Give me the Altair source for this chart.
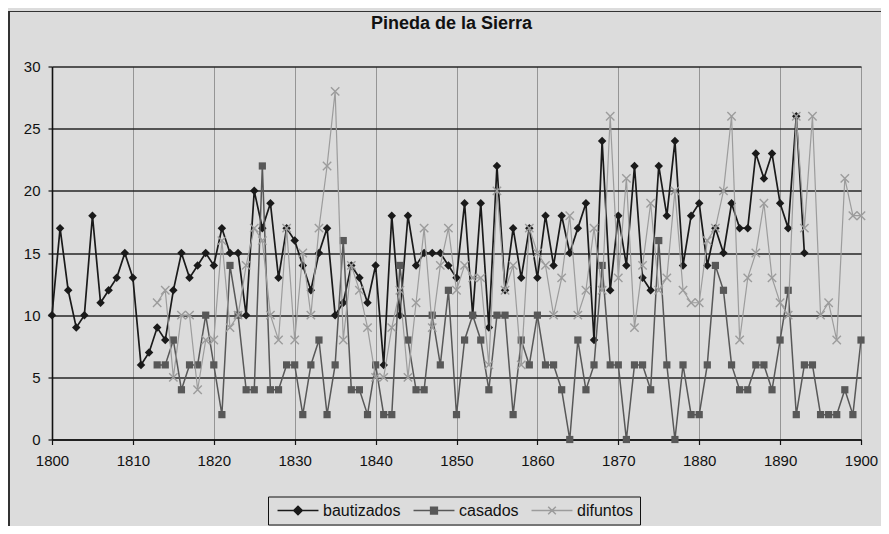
import altair as alt
import pandas as pd

# ---- data ----
anios_bautizados = list(range(1800, 1894))
bautizados = [
    10, 17, 12, 9, 10, 18, 11, 12, 13, 15,
    13, 6, 7, 9, 8, 12, 15, 13, 14, 15,
    14, 17, 15, 15, 10, 20, 17, 19, 13, 17,
    16, 14, 12, 15, 17, 10, 11, 14, 13, 11,
    14, 6, 18, 10, 18, 14, 15, 15, 15, 14,
    13, 19, 10, 19, 9, 22, 12, 17, 13, 17,
    13, 18, 14, 18, 15, 17, 19, 8, 24, 12,
    18, 14, 22, 13, 12, 22, 18, 24, 14, 18,
    19, 14, 17, 15, 19, 17, 17, 23, 21, 23,
    19, 17, 26, 15,
]
anios_cd = list(range(1813, 1901))
casados = [
    6, 6, 8, 4, 6, 6, 10,
    6, 2, 14, 10, 4, 4, 22, 4, 4, 6,
    6, 2, 6, 8, 2, 6, 16, 4, 4, 2,
    6, 2, 2, 14, 8, 4, 4, 10, 6, 12,
    2, 8, 10, 8, 4, 10, 10, 2, 8, 6,
    10, 6, 6, 4, 0, 8, 4, 6, 14, 6,
    6, 0, 6, 6, 4, 16, 6, 0, 6, 2,
    2, 6, 14, 12, 6, 4, 4, 6, 6, 4,
    8, 12, 2, 6, 6, 2, 2, 2, 4, 2, 8,
]
difuntos = [
    11, 12, 5, 10, 10, 4, 8,
    8, 16, 9, 10, 14, 17, 16, 10, 8, 17,
    8, 15, 10, 17, 22, 28, 8, 14, 12, 9,
    5, 5, 9, 12, 5, 11, 17, 9, 14, 17,
    12, 14, 13, 13, 6, 20, 12, 14, 6, 17,
    15, 14, 10, 13, 18, 10, 12, 17, 12, 26,
    13, 21, 9, 14, 19, 12, 13, 20, 12, 11,
    11, 16, 17, 20, 26, 8, 13, 15, 19, 13,
    11, 10, 26, 17, 26, 10, 11, 8, 21, 18, 18,
]

series = ["bautizados", "casados", "difuntos"]
x_ticks = list(range(1800, 1901, 10))
y_ticks = list(range(0, 31, 5))

# ---- styling ----
FONT = "Liberation Sans"
BG = "#dcdcdc"
colores = ["#1a1a1a", "#585858", "#9c9c9c"]
XPATH = "M-1,-1L1,1M-1,1L1,-1"
# legend symbols: a line with the marker in its middle (unit = 4.5 px)
legend_paths = [
    "M-4.55,0L4.55,0M0,-0.95L0.95,0L0,0.95L-0.95,0Z",
    "M-4.55,0L4.55,0M-0.75,-0.75L0.75,-0.75L0.75,0.75L-0.75,0.75Z",
    "M-4.55,0L4.55,0M-0.85,-0.85L0.85,0.85M-0.85,0.85L0.85,-0.85",
]

df = pd.concat([
    pd.DataFrame({"anio": anios_bautizados, "valor": bautizados, "serie": "bautizados"}),
    pd.DataFrame({"anio": anios_cd, "valor": casados, "serie": "casados"}),
    pd.DataFrame({"anio": anios_cd, "valor": difuntos, "serie": "difuntos"}),
], ignore_index=True)

x_enc = alt.X(
    "anio:Q",
    scale=alt.Scale(domain=[1800, 1900], nice=False, zero=False),
    axis=alt.Axis(
        values=x_ticks, format="d", title=None, labelFlush=False,
        grid=True, gridColor="#959595", gridWidth=1,
        domainColor="#111", domainWidth=1.6,
        tickColor="#111", tickSize=5, tickWidth=1.2,
        labelFont=FONT, labelFontSize=15, labelColor="#111", labelPadding=9,
    ),
)
y_enc = alt.Y(
    "valor:Q",
    scale=alt.Scale(domain=[0, 30], nice=False),
    axis=alt.Axis(
        values=y_ticks, title=None,
        grid=True, gridColor="#262626", gridWidth=1.6,
        domainColor="#111", domainWidth=1.6,
        tickColor="#111", tickSize=4, tickWidth=1.2,
        labelFont=FONT, labelFontSize=15, labelColor="#111", labelPadding=8,
    ),
)

base = alt.Chart(df)


def serie_layers(nombre, color, shape, size, filled, lw):
    b = base.transform_filter(alt.datum.serie == nombre)
    line = b.mark_line(color=color, strokeWidth=lw).encode(x=x_enc, y=y_enc)
    pts = b.mark_point(
        shape=shape, size=size, filled=filled, color=color,
        strokeWidth=1.4 if not filled else 0.5, opacity=1,
    ).encode(x=x_enc, y=y_enc)
    return [line, pts]


# outer frame of the figure (decoration only)
frame_top = alt.Chart(df).mark_rule(color="#333", strokeWidth=1.2).encode(
    x=alt.value(-43.5), x2=alt.value(830), y=alt.value(-55)
)
frame_left = alt.Chart(df).mark_rule(color="#333", strokeWidth=1.2).encode(
    x=alt.value(-43.5), y=alt.value(-55), y2=alt.value(460)
)

layers = [frame_top, frame_left]
layers += serie_layers("bautizados", colores[0], "diamond", 72, True, 1.7)
layers += serie_layers("casados", colores[1], "square", 52, True, 1.5)
layers += serie_layers("difuntos", colores[2], XPATH, 70, False, 1.2)

leg = alt.Legend(
    title=None, orient="none", direction="horizontal",
    legendX=216, legendY=430,
    strokeColor="#111", fillColor=BG, padding=6,
    symbolSize=81, symbolStrokeWidth=1.5, symbolOffset=16,
    labelFont=FONT, labelFontSize=16, labelColor="#111",
    labelOffset=17, columnPadding=9,
)
legend_layer = base.transform_filter("datum.valor < 0").mark_point(
    filled=True, strokeWidth=1.5, opacity=1
).encode(
    x=x_enc, y=y_enc,
    color=alt.Color("serie:N", scale=alt.Scale(domain=series, range=colores), legend=leg),
    stroke=alt.Stroke("serie:N", scale=alt.Scale(domain=series, range=colores), legend=leg),
    shape=alt.Shape("serie:N", scale=alt.Scale(domain=series, range=legend_paths), legend=leg),
)

chart = alt.layer(*layers, legend_layer).properties(
    width=809,
    height=373,
    title=alt.TitleParams(
        "Pineda de la Sierra", font=FONT, fontSize=18, fontWeight="bold",
        color="#111", anchor="middle", offset=-22, dx=-5,
    ),
    autosize=alt.AutoSizeParams(type="none"),
    padding={"left": 44, "top": 58.5, "right": 20, "bottom": 86.5},
    background=BG,
).configure_view(stroke=None)

chart.save("out.html", embed_options={"renderer": "svg", "actions": False})
